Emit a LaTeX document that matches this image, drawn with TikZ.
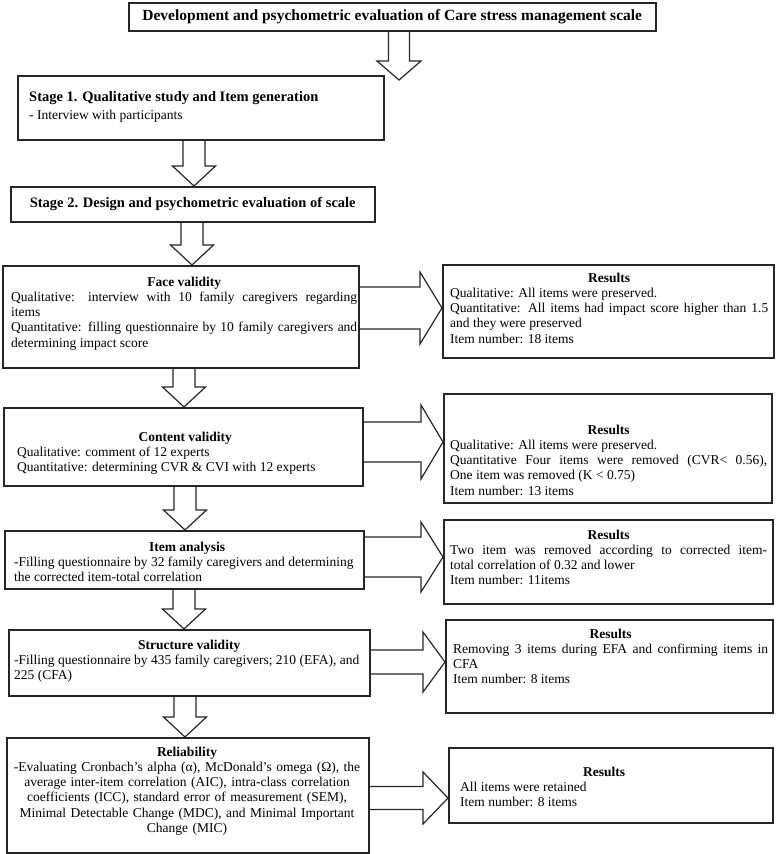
\documentclass[tikz,border=0pt]{standalone}
\usepackage{fontspec}
\setmainfont{Liberation Serif}
\usetikzlibrary{calc}
\tikzset{
 boxf/.style={draw=black!85, line width=1.5pt, inner sep=0pt, anchor=north west},
 txt/.style={inner sep=0pt, anchor=north west, align=justify, font=\fontsize{13.5}{15.3}\selectfont},
 barrow/.style={draw=black!85, line width=1.2pt, line join=miter},
}
\newcommand\mkbox[5]{\node[boxf, minimum width={(#4-#2)*1pt}, minimum height={(#5-#3)*1pt}] (#1) at (#2,#3) {};}
% down block arrow: #1 start, #2 end, #3 x centre, #4 shaft half, #5 head half, #6 head length
\newcommand\darr[6]{%
 \coordinate (dA) at ({#3-#4},0);
 \coordinate (dB) at ({#3-#5},0);
 \coordinate (dC) at (#3,0);
 \coordinate (dD) at ({#3+#5},0);
 \coordinate (dE) at ({#3+#4},0);
 \draw[barrow] (dA |- #1) -- ($(dA |- #2)+(0,-#6)$) -- ($(dB |- #2)+(0,-#6)$) -- (dC |- #2)
   -- ($(dD |- #2)+(0,-#6)$) -- ($(dE |- #2)+(0,-#6)$) -- (dE |- #1);
}
% right block arrow: #1 from node, #2 to node, #3 y centre, #4 shaft half, #5 head half, #6 head length
\newcommand\rarr[6]{%
 \coordinate (rA) at (0,{#3-#4});
 \coordinate (rB) at (0,{#3-#5});
 \coordinate (rC) at (0,#3);
 \coordinate (rD) at (0,{#3+#5});
 \coordinate (rE) at (0,{#3+#4});
 \draw[barrow] (#1.east |- rA) -- ($(#2.west |- rA)+(-#6,0)$) -- ($(#2.west |- rB)+(-#6,0)$) -- (#2.west |- rC)
   -- ($(#2.west |- rD)+(-#6,0)$) -- ($(#2.west |- rE)+(-#6,0)$) -- (#1.east |- rE);
}
\begin{document}
\begin{tikzpicture}[x=1pt,y=-1pt]
\useasboundingbox (0,0) rectangle (778,854);
% boxes
\mkbox{title}{128}{2}{655}{30}
\mkbox{st1}{17}{75}{383}{139}
\mkbox{st2}{10}{186}{374}{221}
\mkbox{face}{2}{265}{358}{367}
\mkbox{res1}{442}{264}{773}{357}
\mkbox{cont}{3}{407}{362}{485}
\mkbox{res2}{443}{393}{771}{502}
\mkbox{item}{4}{530}{363}{588}
\mkbox{res3}{443}{519}{772}{603}
\mkbox{struct}{8}{629}{369}{695}
\mkbox{res4}{445}{619}{772}{712}
\mkbox{rel}{6}{737}{368}{852}
\mkbox{res5}{448}{747}{772}{822}
% texts
\node[inner sep=0pt, font=\fontsize{15.5}{18}\selectfont\bfseries] (titleT) at (title.center) {Development and psychometric evaluation of Care stress management scale};
\node[txt, text width=340pt] (st1T) at (29,91.5) {\fontsize{14.5}{17}\selectfont\bfseries Stage 1. Qualitative study and Item generation\par\vspace{2.5pt}\fontsize{13.5}{15.3}\selectfont\mdseries - Interview with participants};
\node[inner sep=0pt, font=\fontsize{14.5}{17}\selectfont\bfseries] (st2T) at (st2.center) {Stage 2. Design and psychometric evaluation of scale};
\node[txt, text width=346pt] (faceT) at (11,276.5) {{\centering\textbf{Face validity}\par}Qualitative: interview with 10 family caregivers regarding\linebreak items\\ Quantitative: filling questionnaire by 10 family caregivers and\linebreak determining impact score};
\node[txt, text width=318pt] (res1T) at (450,272.5) {{\centering\textbf{Results}\par}Qualitative: All items were preserved.\\ Quantitative: All items had impact score higher than 1.5\linebreak and they were preserved\\ Item number: 18 items};
\node[txt, text width=336pt] (contT) at (17,431.5) {{\centering\textbf{Content validity}\par}Qualitative: comment of 12 experts\\ Quantitative: determining CVR \& CVI with 12 experts};
\node[txt, text width=317pt] (res2T) at (450,424.5) {{\centering\textbf{Results}\par}Qualitative: All items were preserved.\\ Quantitative Four items were removed (CVR< 0.56),\linebreak One item was removed (K < 0.75)\\ Item number: 13 items};
\node[txt, text width=346pt] (itemT) at (14,541.5) {{\centering\textbf{Item analysis}\par}-Filling questionnaire by 32 family caregivers and determining\\ the corrected item-total correlation};
\node[txt, text width=317pt] (res3T) at (450,529.5) {{\centering\textbf{Results}\par}Two item was removed according to corrected item-\linebreak total correlation of 0.32 and lower\\ Item number: 11items};
\node[txt, text width=350pt] (structT) at (14,639.5) {{\centering\textbf{Structure validity}\par}-Filling questionnaire by 435 family caregivers; 210 (EFA), and\\ 225 (CFA)};
\node[txt, text width=315pt] (res4T) at (453,628.5) {{\centering\textbf{Results}\par}Removing 3 items during EFA and confirming items in\linebreak CFA\\ Item number: 8 items};
\node[txt, text width=358pt, anchor=north, align=center] (relT) at (187,746.5) {\textbf{Reliability}\\ -Evaluating Cronbach's alpha (α), McDonald's omega (Ω), the\\ average inter-item correlation (AIC), intra-class correlation\\ coefficients (ICC), standard error of measurement (SEM),\\ Minimal Detectable Change (MDC), and Minimal Important\\ Change (MIC)};
\node[txt, text width=300pt] (res5T) at (460,766.5) {{\centering\hspace*{-12pt}\textbf{Results}\par}All items were retained\\ Item number: 8 items};
% down arrows
\coordinate (a1end) at (399,80);
\darr{title.south}{a1end}{399}{10.5}{22}{19}
\darr{st1.south}{st2.north}{194}{11}{21.5}{20}
\darr{st2.south}{face.north}{192}{11}{21.5}{20}
\darr{face.south}{cont.north}{184}{11}{21.5}{20}
\darr{cont.south}{item.north}{185}{11}{21.5}{20}
\darr{item.south}{struct.north}{184}{11}{21.5}{20}
\darr{struct.south}{rel.north}{185}{11}{21.5}{20}
% right arrows
\rarr{face}{res1}{308}{21}{36}{22}
\rarr{cont}{res2}{442}{20}{37}{22}
\rarr{item}{res3}{557}{20}{35}{22}
\rarr{struct}{res4}{662}{12}{30}{22}
\rarr{rel}{res5}{798}{11.5}{26}{25}
\end{tikzpicture}
\end{document}
